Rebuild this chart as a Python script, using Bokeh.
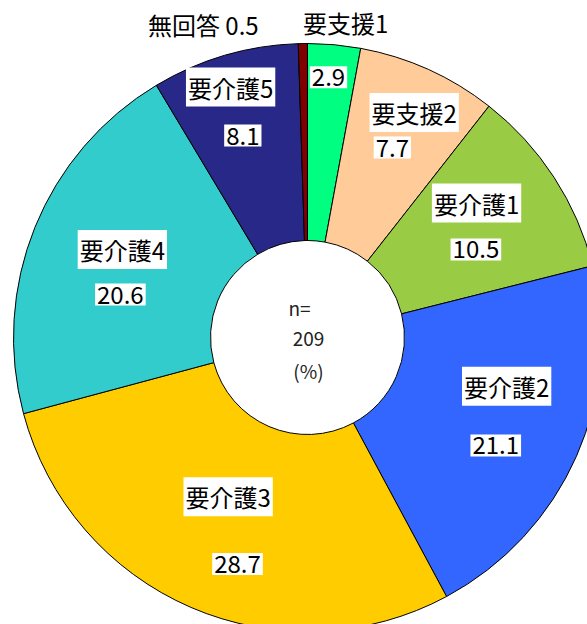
import math
from bokeh.plotting import figure
from bokeh.models import Range1d, ColumnDataSource
from bokeh.core.properties import value
from bokeh.embed import file_html
from bokeh.resources import INLINE

# ---- data ----
categories = ["要支援1", "要支援2", "要介護1", "要介護2", "要介護3", "要介護4", "要介護5", "無回答"]
percent = [2.9, 7.7, 10.5, 21.1, 28.7, 20.6, 8.1, 0.5]
value_labels = ["2.9", "7.7", "10.5", "21.1", "28.7", "20.6", "8.1", "0.5"]
n_total = "209"

# ---- styles ----
colors = ["#00FF80", "#FFCC99", "#99CC44", "#3366FF", "#FFCC00", "#33CCCC", "#282888", "#800000"]
FONT = "Noto Sans CJK JP"

# ---- layout (screen pixels) ----
W, H = 587, 624
PAGE_H = 624
CX, CY = 307, 337
R_IN, R_OUT = 97, 294
# label placement: (radius, angle nudge in degrees) relative to slice mid-angle
name_pos = [(317, 1.7), (249, 1.1), (216, -5.5), (205, -10.1), (178, 3.1), (205, 3.4), (262, -0.7), (330, -17.5)]
value_pos = [(261, -0.6), (208, -0.2), (190, 5.4), (217, 6.0), (237, -6.2), (192, -9.1), (212, -1.4), None]
name_boxed = [False, True, True, True, True, True, True, False]

def dy(sy):
    return PAGE_H - sy

p = figure(width=W, height=H, output_backend="svg", toolbar_location=None,
           x_range=Range1d(0, W), y_range=Range1d(PAGE_H - H, PAGE_H),
           x_axis_location=None, y_axis_location=None, min_border=0,
           outline_line_color=None, background_fill_color="white", border_fill_color="white")
p.grid.visible = False

total = sum(percent)
starts, ends, mids = [], [], []
cum = 0.0
for v in percent:
    a0 = cum / total * 360.0
    cum += v
    a1 = cum / total * 360.0
    starts.append(math.pi / 2 - math.radians(a0))
    ends.append(math.pi / 2 - math.radians(a1))
    mids.append((a0 + a1) / 2)

src = ColumnDataSource(dict(start=starts, end=ends, color=colors, cat=categories))
p.annular_wedge(x=CX, y=dy(CY), inner_radius=R_IN, outer_radius=R_OUT,
                start_angle="start", end_angle="end", direction="clock",
                fill_color="color", line_color="black", line_width=1, source=src)

def polar(mid, r, nudge):
    t = math.radians(mid + nudge)
    return CX + r * math.sin(t), dy(CY - r * math.cos(t))

bx, by, bt = [], [], []   # boxed labels
ox, oy, ot = [], [], []   # plain labels
for i, cat in enumerate(categories):
    r, nd = name_pos[i]
    x, y = polar(mids[i], r, nd)
    txt = cat if value_pos[i] is not None else f"{cat} {value_labels[i]}"
    if name_boxed[i]:
        bx.append(x); by.append(y); bt.append(txt)
    else:
        ox.append(x); oy.append(y); ot.append(txt)
    if value_pos[i] is not None:
        r, nd = value_pos[i]
        x, y = polar(mids[i], r, nd)
        bx.append(x); by.append(y); bt.append(value_labels[i])

p.text(x=bx, y=by, text=bt, text_font=value(FONT), text_font_size="24px",
       text_color="black", text_align="center", text_baseline="middle",
       background_fill_color="white", padding=2)
p.text(x=ox, y=oy, text=ot, text_font=value(FONT), text_font_size="24px",
       text_color="black", text_align="center", text_baseline="middle")

# centre text
center_lines = ["n=", n_total, "(%)"]
center_offsets = [-30, 1, 33]
p.text(x=[CX - 8, CX + 1, CX + 1], y=[dy(CY + o) for o in center_offsets], text=center_lines,
       text_font=value(FONT), text_font_size="19px", text_color="#222222",
       text_align="center", text_baseline="middle")

open("out.html", "w").write(file_html(p, INLINE))
